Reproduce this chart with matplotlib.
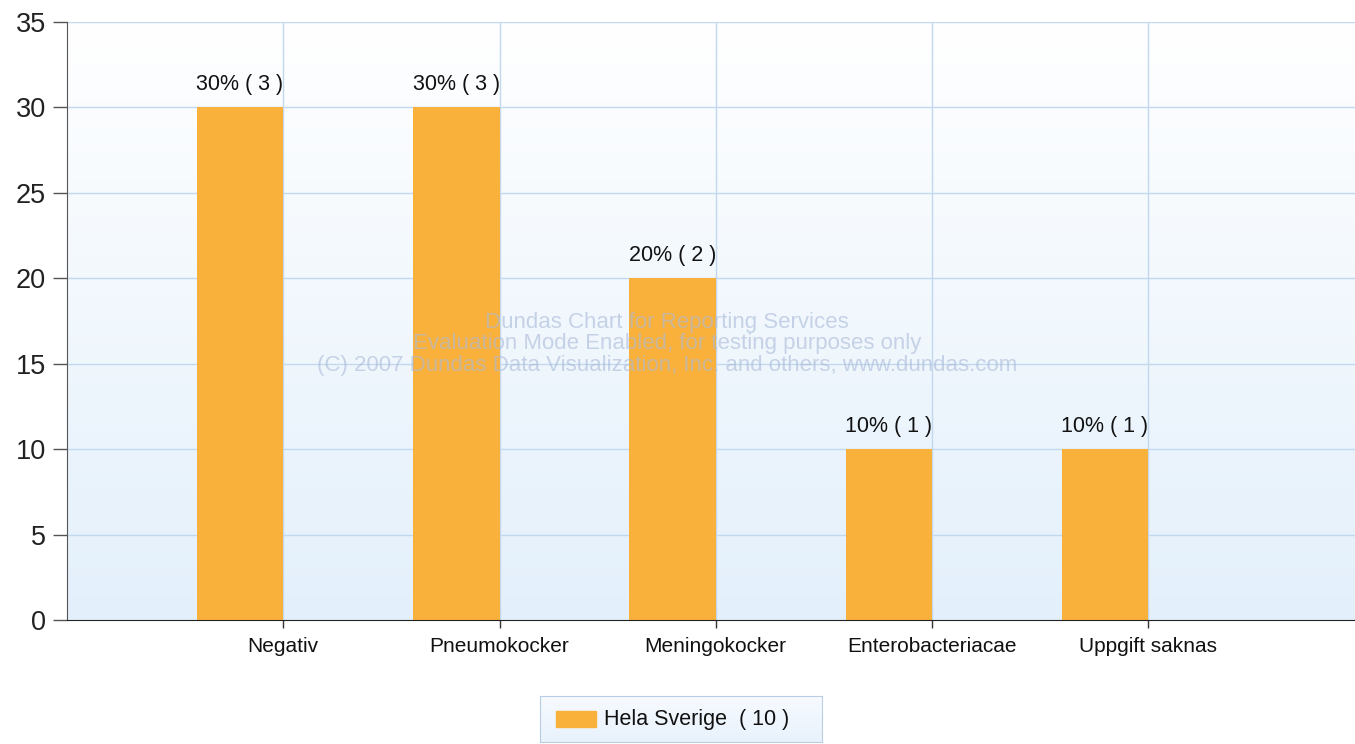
import numpy as np
import matplotlib
matplotlib.use('Agg')
import matplotlib.pyplot as plt
from matplotlib.patches import Rectangle

plt.rcParams['font.family'] = ['Liberation Sans', 'DejaVu Sans']

# Data
categories = ['Negativ', 'Pneumokocker', 'Meningokocker', 'Enterobacteriacae', 'Uppgift saknas']
percent = [30, 30, 20, 10, 10]
counts = [3, 3, 2, 1, 1]
series_name = 'Hela Sverige'
total = 10

bar_color = '#f9b13c'
grid_color = '#c2d8ee'

fig = plt.figure(figsize=(13.55, 7.44), dpi=100)
ax = fig.add_axes([67 / 1355, 1 - 620 / 744, 1 - 67 / 1355, (620 - 22) / 744])

x = np.arange(1, len(categories) + 1)
xmax = (1355 - 67) / 216.25

# background gradient
grad = np.linspace(0, 1, 256).reshape(-1, 1, 1)
top = np.array([1.0, 1.0, 1.0])
bottom = np.array([0.89, 0.94, 0.985])
img = top + (bottom - top) * grad
ax.imshow(img, extent=[0, xmax, 0, 35], aspect='auto', origin='upper', zorder=0)
ax.set_xlim(0, xmax)
ax.set_ylim(0, 35)

# grid
for yv in range(5, 36, 5):
    ax.axhline(yv, color=grid_color, lw=1.0, zorder=1)
for xv in x:
    ax.axvline(xv, color=grid_color, lw=1.0, zorder=1)

# bars sit just left of their category position
ax.bar(x - 0.4, percent, width=0.4, align='edge', color=bar_color, zorder=2)

for xi, p, c in zip(x, percent, counts):
    ax.annotate(f'{p}% ( {c} )', (xi - 0.2, p), xytext=(0, 9), textcoords='offset points',
                ha='center', va='bottom', fontsize=15.5, color='#111111', zorder=4)

# watermark
fig.text(667 / 1355, 1 - 344 / 744, 'Dundas Chart for Reporting Services\n'
         'Evaluation Mode Enabled, for testing purposes only\n'
         '(C) 2007 Dundas Data Visualization, Inc. and others, www.dundas.com',
         ha='center', va='center', fontsize=16, color='#a9b9d8', alpha=0.6,
         linespacing=1.05, zorder=5)

for s in ['top', 'right']:
    ax.spines[s].set_visible(False)
ax.spines['left'].set_color('#555555')
ax.spines['bottom'].set_color('#222222')
ax.spines['left'].set_zorder(3)
ax.spines['bottom'].set_zorder(3)

ax.set_yticks(range(0, 36, 5))
ax.tick_params(axis='y', length=10, width=1, color='#555555', pad=5, labelsize=19.5, labelcolor='#222222')
ax.set_xticks(x)
ax.set_xticklabels(categories)
ax.tick_params(axis='x', length=6, width=1, color='#333333', pad=6, labelsize=15, labelcolor='#111111')

# legend
leg_ax = fig.add_axes([540 / 1355, 1 - 742 / 744, (822 - 540) / 1355, (742 - 696) / 744])
lg = np.linspace(0, 1, 64).reshape(-1, 1, 1)
limg = np.array([0.97, 0.98, 1.0]) + (np.array([0.91, 0.95, 0.99]) - np.array([0.97, 0.98, 1.0])) * lg
leg_ax.imshow(limg, extent=[0, 282, 0, 46], aspect='auto', origin='upper')
leg_ax.set_xlim(0, 282)
leg_ax.set_ylim(0, 46)
leg_ax.add_patch(Rectangle((16, 15), 40, 16, color=bar_color))
leg_ax.text(64, 23, f'{series_name}  ( {total} )', va='center', ha='left', fontsize=15.5, color='#111111')
leg_ax.set_xticks([])
leg_ax.set_yticks([])
for s in leg_ax.spines.values():
    s.set_color('#b9cde3')

fig.savefig('out.png', dpi=100)
